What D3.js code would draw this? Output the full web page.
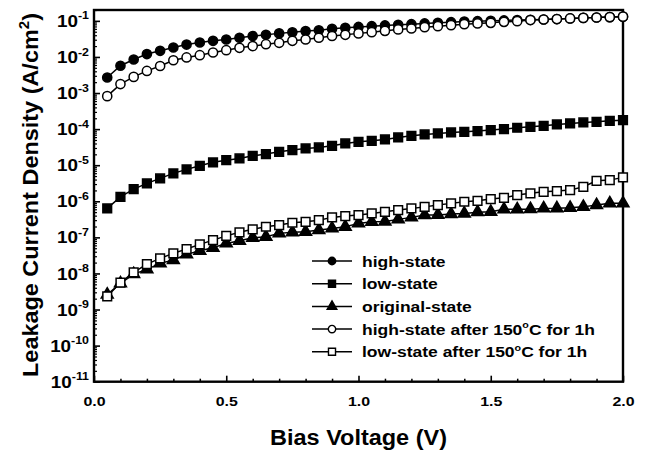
<!DOCTYPE html>
<html><head><meta charset="utf-8">
<script src="https://cdn.jsdelivr.net/npm/d3@7"></script>
<style>
html,body{margin:0;padding:0;background:#fff;}
text{font-family:"Liberation Sans",Arial,Helvetica,sans-serif;font-weight:bold;fill:#000;}
</style></head>
<body>
<svg id="chart" width="647" height="450"></svg>
<script>
const voltage = [0.05,0.10,0.15,0.20,0.25,0.30,0.35,0.40,0.45,0.50,
  0.55,0.60,0.65,0.70,0.75,0.80,0.85,0.90,0.95,1.00,
  1.05,1.10,1.15,1.20,1.25,1.30,1.35,1.40,1.45,1.50,
  1.55,1.60,1.65,1.70,1.75,1.80,1.85,1.90,1.95,2.00];

const highState = [2.7e-3,5.7e-3,8.5e-3,1.2e-2,1.48e-2,1.83e-2,2.2e-2,2.52e-2,2.8e-2,3.05e-2,
  3.4e-2,3.8e-2,4.1e-2,4.5e-2,4.8e-2,5.2e-2,5.5e-2,6.0e-2,6.4e-2,6.8e-2,
  0.0713,0.0747,0.0775,0.081,0.0848,0.088,0.092,0.096,0.098,0.1,
  0.103,0.105,0.107,0.109,0.112,0.117,0.121,0.124,0.127,0.131];

const lowState = [6.35e-7,1.33e-6,2.18e-6,3.13e-6,4.3e-6,5.93e-6,7.66e-6,9.6e-6,1.2e-5,1.38e-5,
  1.54e-5,1.82e-5,2.03e-5,2.35e-5,2.62e-5,2.92e-5,3.1e-5,3.44e-5,4.0e-5,4.45e-5,
  4.74e-5,5.19e-5,5.89e-5,6.52e-5,7.13e-5,7.6e-5,8.1e-5,8.4e-5,8.8e-5,9.4e-5,
  1.0e-4,1.09e-4,1.16e-4,1.23e-4,1.35e-4,1.44e-4,1.53e-4,1.59e-4,1.7e-4,1.77e-4];

const originalState = [2.6e-9,5.3e-9,9.6e-9,1.3e-8,1.9e-8,2.35e-8,3.38e-8,4.26e-8,5.15e-8,6.8e-8,
  8.05e-8,9.75e-8,1.04e-7,1.29e-7,1.38e-7,1.43e-7,1.59e-7,1.77e-7,1.97e-7,2.44e-7,
  2.7e-7,2.75e-7,3.15e-7,3.58e-7,4.15e-7,4.2e-7,4.42e-7,4.6e-7,5.0e-7,5.1e-7,
  5.97e-7,6.0e-7,6.05e-7,6.35e-7,6.4e-7,6.6e-7,7.0e-7,7.85e-7,8.75e-7,8.8e-7];

const highAfter = [8.2e-4,1.77e-3,2.8e-3,4.1e-3,5.6e-3,8.1e-3,9.7e-3,1.12e-2,1.33e-2,1.54e-2,
  1.79e-2,2.0e-2,2.26e-2,2.46e-2,2.8e-2,3.05e-2,3.4e-2,3.8e-2,4.1e-2,4.5e-2,
  0.0486,0.0528,0.0578,0.0615,0.067,0.0713,0.076,0.081,0.0848,0.088,
  0.0938,0.098,0.105,0.109,0.112,0.117,0.121,0.124,0.127,0.131];

const lowAfter = [2.3e-9,5.6e-9,1.07e-8,1.82e-8,2.62e-8,3.6e-8,4.74e-8,6.4e-8,8.4e-8,1.1e-7,
  1.38e-7,1.67e-7,1.97e-7,2.19e-7,2.54e-7,2.7e-7,3.0e-7,3.58e-7,3.9e-7,4.15e-7,
  4.6e-7,5.1e-7,5.7e-7,6.35e-7,7.0e-7,7.85e-7,8.75e-7,9.7e-7,1.03e-6,1.15e-6,
  1.25e-6,1.49e-6,1.66e-6,1.83e-6,1.92e-6,2.04e-6,2.52e-6,3.7e-6,3.86e-6,4.6e-6];

const seriesNames = ["high-state","low-state","original-state","high-state after 150","low-state after 150"];
const xTicks = [0.0,0.5,1.0,1.5,2.0];
const xMinorTicks = [0.1,0.2,0.3,0.4,0.6,0.7,0.8,0.9,1.1,1.2,1.3,1.4,1.6,1.7,1.8,1.9];
const yExponents = [-11,-10,-9,-8,-7,-6,-5,-4,-3,-2,-1];

const series = [
  {name: seriesNames[0], values: highState, sym: d3.symbolCircle, size: 66, fill: "#000", suffix: ""},
  {name: seriesNames[1], values: lowState, sym: d3.symbolSquare, size: 76, fill: "#000", suffix: ""},
  {name: seriesNames[2], values: originalState, sym: d3.symbolTriangle, size: 62, fill: "#000", suffix: ""},
  {name: seriesNames[3], values: highAfter, sym: d3.symbolCircle, size: 66, fill: "#fff", suffix: "C for 1h"},
  {name: seriesNames[4], values: lowAfter, sym: d3.symbolSquare, size: 76, fill: "#fff", suffix: "C for 1h"}
];

const svg = d3.select("#chart");
const L = 94, R = 623, T = 10, B = 381.7;
const x = d3.scaleLinear().domain([0, 2]).range([L, R]);
const y = d3.scaleLog().domain([1e-11, 0.2]).range([B, T]);
const SX = 1.18; // horizontal glyph stretch of the reference font

// minor y ticks
const yMinor = [];
yExponents.forEach(e => { for (let m = 2; m <= 9; m++) { const v = m * Math.pow(10, e); if (v <= 0.2) yMinor.push(v); } });

const gx = svg.append("g").attr("transform", `translate(0,${B})`);
gx.call(d3.axisBottom(x).tickValues(xMinorTicks).tickSize(-3).tickFormat(""));
gx.select(".domain").remove();
const gx2 = svg.append("g").attr("transform", `translate(0,${B})`);
gx2.call(d3.axisBottom(x).tickValues(xTicks).tickSize(-6).tickFormat(d3.format(".1f")));
gx2.select(".domain").remove();
gx.selectAll("line").attr("stroke", "#000").attr("stroke-width", 1.5);
gx2.selectAll("line").attr("stroke", "#000").attr("stroke-width", 1.6);
gx2.selectAll("text").attr("font-size", 13.5).attr("font-family", null).attr("fill", "#000")
  .attr("y", null).attr("dy", null).attr("transform", `translate(0,24.3) scale(${SX},1)`);

const gy = svg.append("g").attr("transform", `translate(${L},0)`);
gy.call(d3.axisLeft(y).tickValues(yMinor).tickSize(-3).tickFormat(""));
gy.select(".domain").remove();
const gy2 = svg.append("g").attr("transform", `translate(${L},0)`);
gy2.call(d3.axisLeft(y).tickValues(yExponents.map(e => Math.pow(10, e))).tickSize(-6).tickFormat(""));
gy2.select(".domain").remove();
gy.selectAll("line").attr("stroke", "#000").attr("stroke-width", 1.2);
gy2.selectAll("line").attr("stroke", "#000").attr("stroke-width", 1.6);
gy2.selectAll(".tick").each(function(d) {
  const e = Math.round(Math.log10(d));
  const t = d3.select(this).select("text")
    .attr("x", null).attr("dy", null).attr("y", null).attr("text-anchor", "end")
    .attr("transform", `translate(-5,5.6) scale(${SX},1)`)
    .attr("font-size", 16).attr("font-family", null).attr("fill", "#000");
  t.text("");
  t.append("tspan").text("10");
  t.append("tspan").attr("dy", -7.5).attr("font-size", 10.5).text(String(e));
});

// frame
svg.append("rect").attr("x", L).attr("y", T).attr("width", R - L).attr("height", B - T)
  .attr("fill", "none").attr("stroke", "#000").attr("stroke-width", 2.4);

// series
const line = d3.line().x((d, i) => x(voltage[i])).y(d => y(d));
series.forEach(s => {
  const g = svg.append("g");
  g.append("path").attr("d", line(s.values)).attr("fill", "none").attr("stroke", "#000").attr("stroke-width", 1.5);
  g.selectAll("path.m").data(s.values).join("path").attr("class", "m")
    .attr("transform", (d, i) => `translate(${x(voltage[i])},${y(d)})`)
    .attr("d", d3.symbol().type(s.sym).size(s.size))
    .attr("fill", s.fill).attr("stroke", "#000").attr("stroke-width", 1.5);
});

// legend
const lgY0 = 261, lgDY = 22.7;
const legendTexts = [];
series.forEach((s, i) => {
  const yy = lgY0 + i * lgDY;
  const g = svg.append("g");
  g.append("line").attr("x1", 312).attr("x2", 352).attr("y1", yy).attr("y2", yy).attr("stroke", "#000").attr("stroke-width", 1.5);
  g.append("path").attr("transform", `translate(332,${yy})`).attr("d", d3.symbol().type(s.sym).size(s.size * 0.65))
    .attr("fill", s.fill).attr("stroke", "#000").attr("stroke-width", 1.4);
  const t = g.append("text").attr("transform", `translate(362,${yy + 5.5}) scale(${SX},1)`).attr("font-size", 15.5);
  t.append("tspan").text(s.name);
  if (s.suffix) {
    t.append("tspan").attr("dy", -6.5).attr("font-size", 9.5).text("o");
    t.append("tspan").attr("dy", 6.5).text(s.suffix);
  }
  legendTexts.push({t, yy});
});
// fit the longest legend entry to the reference width
const longest = legendTexts[3].t.node().getBBox().width;
const lsx = 233 / longest;
legendTexts.forEach(({t, yy}) => t.attr("transform", `translate(362,${yy + 5.5}) scale(${lsx},1)`));

// axis titles
const xt = svg.append("text").attr("text-anchor", "middle").attr("font-size", 21.5).text("Bias Voltage (V)");
const xw = xt.node().getBBox().width;
xt.attr("transform", `translate(358.5,445) scale(${177 / xw},1)`);

const yt = svg.append("text").attr("text-anchor", "middle").attr("font-size", 22.5);
yt.append("tspan").text("Leakage Current Density (A/cm");
yt.append("tspan").attr("dy", -9).attr("font-size", 14.5).text("2");
yt.append("tspan").attr("dy", 9).text(")");
const yw = yt.node().getBBox().width;
yt.attr("transform", `translate(38,195) rotate(-90) scale(${364 / yw},1)`);
</script>
</body></html>
